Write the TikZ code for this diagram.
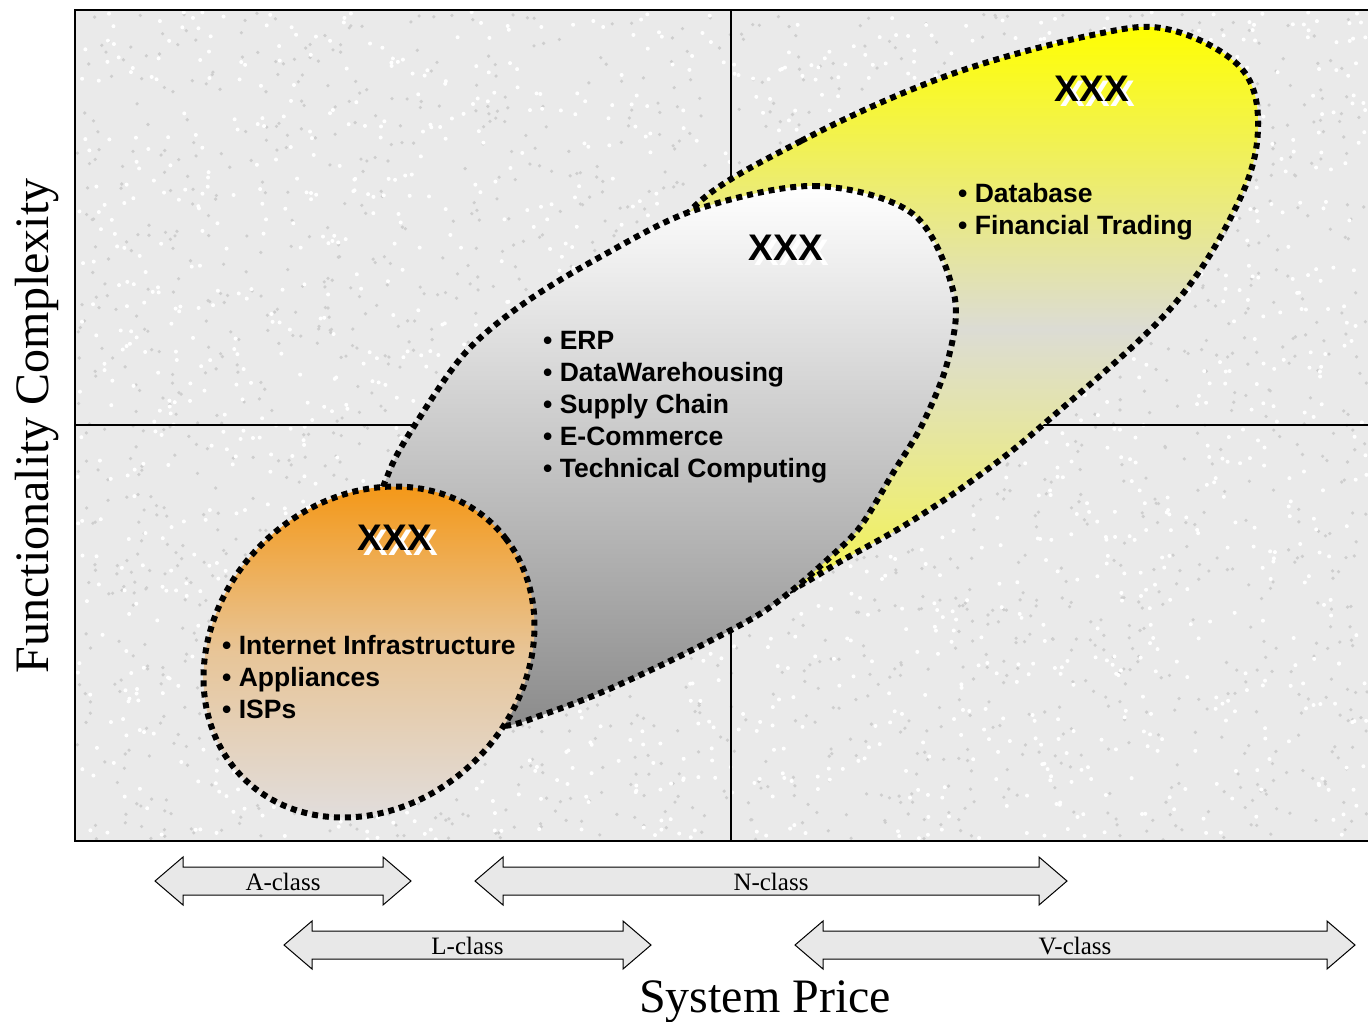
\documentclass[tikz,border=0pt]{standalone}
\usepackage{fontspec}
\setmainfont{Liberation Serif}
\setsansfont{Liberation Sans}

\definecolor{granite}{RGB}{234,234,234}
\definecolor{speck}{RGB}{206,206,206}
\definecolor{classgray}{RGB}{232,232,232}
\definecolor{yeltop}{RGB}{255,255,0}
\definecolor{yelmid}{RGB}{220,220,212}
\definecolor{yelbot}{RGB}{248,248,60}
\definecolor{nclasstop}{RGB}{255,255,255}
\definecolor{nclassbot}{RGB}{138,138,138}
\definecolor{orgtop}{RGB}{244,152,24}
\definecolor{orgbot}{RGB}{225,221,220}

\tikzset{
  dotborder/.style={draw=black, line width=6pt, dash pattern=on 6pt off 5pt},
  bullets/.style={font=\sffamily\bfseries\fontsize{26.5}{32}\selectfont, align=left, anchor=west, inner sep=0pt},
  xxx/.style={font=\sffamily\bfseries\fontsize{37}{40}\selectfont, inner sep=0pt},
  classbox/.style={draw=black, line width=1pt, fill=classgray},
  classlabel/.style={font=\fontsize{25}{28}\selectfont, inner sep=0pt},
  axislabel/.style={font=\fontsize{48}{50}\selectfont, inner sep=0pt},
}

% title with a white drop shadow
\newcommand\shadowed[1]{\makebox[0pt][l]{\hspace{6pt}\raisebox{-5pt}{\textcolor{white}{#1}}}#1}

% double headed price band: name, left tip, right tip, y, label
\newcommand\classarrow[5]{%
  \draw[classbox] (#2,#4) -- ++(28,-24) -- ++(0,10) -- (#3-28,#4-14) -- ++(0,-10)
    -- (#3,#4) -- ++(-28,24) -- ++(0,-10) -- (#2+28,#4+14) -- ++(0,10) -- cycle;
  \node[classlabel] (#1) at ({(#2+#3)/2},#4+1) {#5};
}

\begin{document}
\begin{tikzpicture}[x=1pt,y=-1pt]
    \useasboundingbox (0,0) rectangle (1368,1021);

    % granite background
    \fill[granite] (75,10) rectangle (1368,841);
    \pgfmathsetseed{42}
    \foreach \i in {1,...,2000}{
      \pgfmathsetmacro{\sx}{77+1290*rnd}
      \pgfmathsetmacro{\sy}{12+828*rnd}
      \fill[speck] (\sx,\sy) circle (1.8);
    }
    \foreach \i in {1,...,1800}{
      \pgfmathsetmacro{\sx}{77+1290*rnd}
      \pgfmathsetmacro{\sy}{12+828*rnd}
      \fill[white] (\sx,\sy) circle (2);
    }
    \draw[line width=1.5pt] (731,10) -- (731,841);
    \draw[line width=1.5pt] (75,425) -- (1368,425);
    \draw[line width=2pt] (1368,10) -- (75,10) -- (75,841) -- (1368,841);

    % V-class region
    \draw[dotborder, top color=yeltop, bottom color=yelbot, middle color=yelmid]
      plot[smooth cycle, tension=0.6] coordinates {(690,211) (801,141) (949,75) (1097,34) (1171,30)
        (1241,68) (1258,128) (1238,203) (1171,308) (1045,423) (977,477) (910,522) (843,560)
        (785,593) (720,615) (662,480) (655,300)};

    % N-class region
    \draw[dotborder, top color=nclasstop, bottom color=nclassbot]
      plot[smooth cycle, tension=0.55] coordinates {(695,210) (814,186) (913,214) (954,294)
        (948,360) (923,423) (893,473) (860,527) (827,560) (790,592) (753,618) (676,658)
        (600,693) (542,715) (504,726) (445,725) (395,670) (372,540) (389,472) (420,417)
        (466,352) (523,304) (600,257)};

    % A/L-class region
    \draw[dotborder, top color=orgtop, bottom color=orgbot, middle color=orgtop!35!orgbot]
      plot[domain=0:354, samples=60, smooth cycle]
        ({369+178*cos(\x)*cos(45)+152*sin(\x)*sin(45)}, {652-178*cos(\x)*sin(45)+152*sin(\x)*cos(45)});

    \node[xxx] (vtitle) at (1092,91) {\shadowed{XXX}};
    \node[xxx] (ntitle) at (786,250) {\shadowed{XXX}};
    \node[xxx] (atitle) at (395,540) {\shadowed{XXX}};

    \node[bullets] (vlist) at (958,212) {• Database\\• Financial Trading};
    \node[bullets] (nlist) at (543,407) {• ERP\\• DataWarehousing\\• Supply Chain\\• E-Commerce\\• Technical Computing};
    \node[bullets] (alist) at (222,677) {• Internet Infrastructure\\• Appliances\\• ISPs};

    % price bands
    \classarrow{aclass}{155}{411}{881}{A-class}
    \classarrow{nclass}{475}{1067}{881}{N-class}
    \classarrow{lclass}{284}{651}{945}{L-class}
    \classarrow{vclass}{795}{1355}{945}{V-class}

    \node[axislabel, anchor=base] (xlab) at (765,1012) {System Price};
    \node[axislabel, anchor=base, rotate=90] (ylab) at (48,426) {Functionality Complexity};
\end{tikzpicture}
\end{document}
